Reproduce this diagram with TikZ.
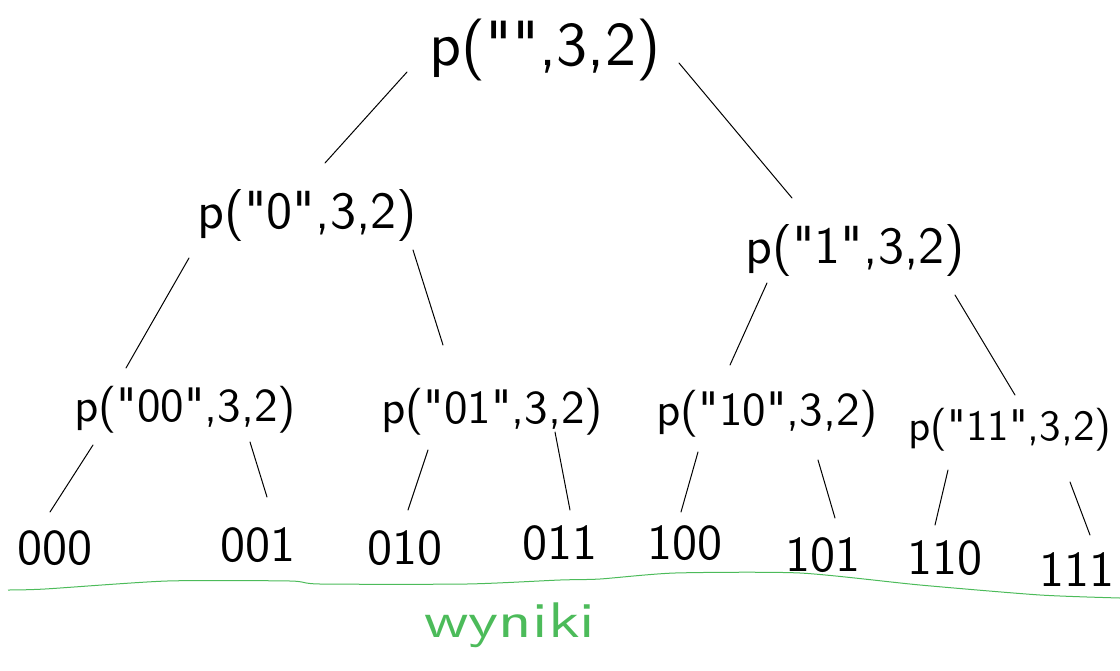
\documentclass[tikz,border=0pt]{standalone}
\usepackage{fontspec}
\usetikzlibrary{calc}
\newfontfamily\hand{lmsans10-regular.otf}
\newfontfamily\handwide{lmsans10-regular.otf}[FakeStretch=1.3]
\definecolor{penline}{RGB}{76,187,90}
\begin{document}
\begin{tikzpicture}[x=1pt,y=-1pt,
  callA/.style={font=\hand\fontsize{62}{70}\selectfont, inner sep=0pt},
  callB/.style={font=\hand\fontsize{52}{60}\selectfont, inner sep=0pt},
  callC/.style={font=\hand\fontsize{47}{54}\selectfont, inner sep=0pt},
  callD/.style={font=\hand\fontsize{43}{50}\selectfont, inner sep=0pt},
  leaf/.style={font=\hand\fontsize{50}{56}\selectfont, inner sep=0pt},
  edge/.style={draw, line width=1pt, line cap=round},
  hand/.style={penline, line width=1pt, line join=round}]
\useasboundingbox (0,0) rectangle (1120,670);
\node[callA] (r) at (545,50) {p("",3,2)};
\node[callB] (a) at (307,215) {p("0",3,2)};
\node[callB] (b) at (855,250) {p("1",3,2)};
\node[callC] (aa) at (185,410) {p("00",3,2)};
\node[callC] (ab) at (492,412) {p("01",3,2)};
\node[callC] (ba) at (767,414) {p("10",3,2)};
\node[callD] (bb) at (1010,430) {p("11",3,2)};
\node[leaf] (l1) at (55,548) {000};
\node[leaf] (l2) at (258,545) {001};
\node[leaf] (l3) at (405,548) {010};
\node[leaf] (l4) at (560,543) {011};
\node[leaf] (l5) at (685,543) {100};
\node[leaf] (l6) at (823,555) {101};
\node[leaf] (l7) at (945,558) {110};
\node[leaf] (l8) at (1077,570) {111};
\path[edge] ($(r)+(-138,22)$) -- ($(a)+(18,-52)$);
\path[edge] ($(r)+(134,13)$) -- ($(b)+(-63,-52)$);
\path[edge] ($(a)+(-118,43)$) -- ($(aa)+(-59,-42)$);
\path[edge] ($(a)+(106,35)$) -- ($(ab)+(-49,-67)$);
\path[edge] ($(b)+(-88,33)$) -- ($(ba)+(-37,-49)$);
\path[edge] ($(b)+(100,45)$) -- ($(bb)+(5,-35)$);
\path[edge] ($(aa)+(-92,35)$) -- ($(l1)+(-5,-36)$);
\path[edge] ($(aa)+(65,32)$) -- ($(l2)+(9,-48)$);
\path[edge] ($(ab)+(-64,38)$) -- ($(l3)+(3,-38)$);
\path[edge] ($(ab)+(63,20)$) -- ($(l4)+(10,-33)$);
\path[edge] ($(ba)+(-69,38)$) -- ($(l5)+(-4,-31)$);
\path[edge] ($(ba)+(51,46)$) -- ($(l6)+(12,-37)$);
\path[edge] ($(bb)+(-62,40)$) -- ($(l7)+(-10,-33)$);
\path[edge] ($(bb)+(60,52)$) -- ($(l8)+(13,-35)$);
\draw[hand] plot[smooth, tension=0.4] coordinates {(8,590) (45,589) (167,581) (290,581) (320,584) (467,584) (560,580) (600,579) (675,573) (800,573) (920,585) (1040,595) (1120,598)};
\node[text=penline, font=\handwide\fontsize{50}{56}\selectfont, inner sep=0pt] (w) at (510,625) {wyniki};
\end{tikzpicture}
\end{document}
